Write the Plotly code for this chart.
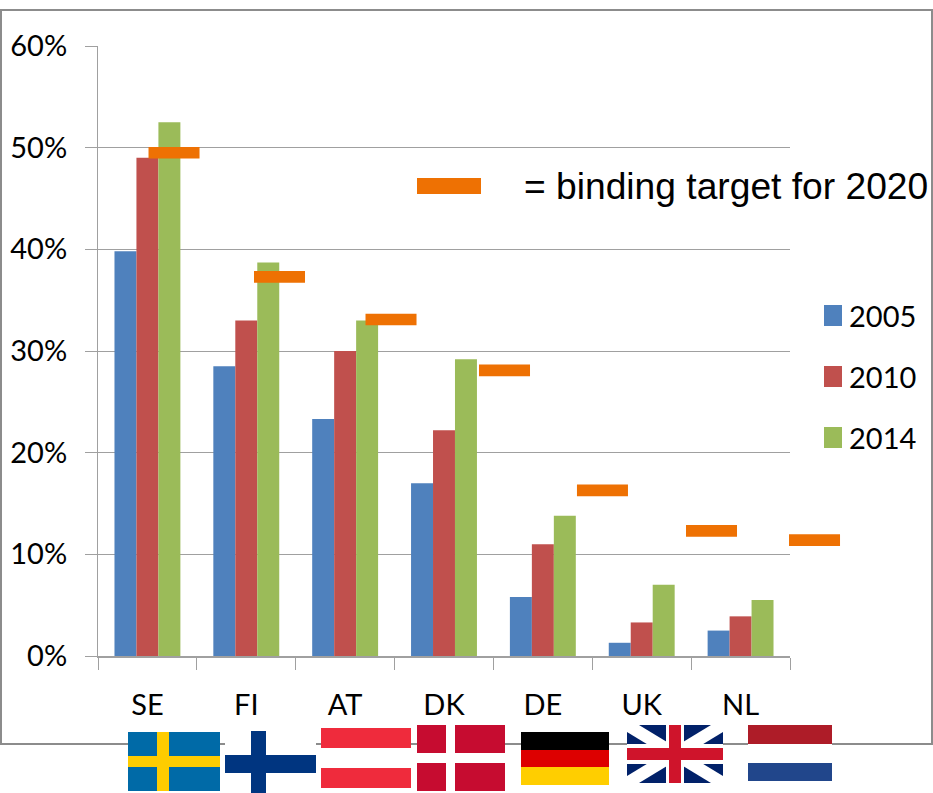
import plotly.graph_objects as go

countries = ["SE", "FI", "AT", "DK", "DE", "UK", "NL"]
years = ["2005", "2010", "2014"]
v2005 = [39.8, 28.5, 23.3, 17.0, 5.8, 1.3, 2.5]
v2010 = [49.0, 33.0, 30.0, 22.2, 11.0, 3.3, 3.9]
v2014 = [52.5, 38.7, 33.0, 29.2, 13.8, 7.0, 5.5]
target_pos = [0.269, 1.336, 2.464, 3.612, 4.603, 5.706, 6.748]
target_val = [49.5, 37.3, 33.1, 28.1, 16.3, 12.3, 11.4]
y_ticks = [0, 10, 20, 30, 40, 50, 60]
y_labels = ["0%", "10%", "20%", "30%", "40%", "50%", "60%"]
colors = ["#4F81BD", "#C0504D", "#9BBB59"]
ORANGE = "#EE7103"
FONT = "Lato"
TEXT_SIZE = 29

W, H = 933, 793
L, T, PW, PH = 98, 46, 835, 610   # whole plotting area
CHART_W = 692                     # part of it used by the category axis
CAT_W = CHART_W / len(countries)


def px(x):
    return (x - L) / PW


def py(y):
    return 1 - (y - T) / PH


fig = go.Figure()
for name, vals, col in zip(years, [v2005, v2010, v2014], colors):
    fig.add_bar(x=countries, y=vals, name=name, marker_color=col, marker_line_width=0)

thick = 1.15
fig.add_bar(
    x=target_pos, y=[thick] * len(target_val), base=[v - thick / 2 for v in target_val],
    width=0.516, xaxis="x2", yaxis="y2", marker_color=ORANGE, marker_line_width=0,
    showlegend=False, name="target",
)

shapes = []


def rect(x0, y0, x1, y1, fill):
    shapes.append(dict(type="rect", xref="paper", yref="paper", x0=px(x0), x1=px(x1),
                       y0=py(y0), y1=py(y1), fillcolor=fill, line_width=0, layer="above"))


def poly(points, fill):
    d = "M" + "L".join(f"{px(a):.5f},{py(b):.5f}" for a, b in points) + "Z"
    shapes.append(dict(type="path", xref="paper", yref="paper", path=d, fillcolor=fill,
                       line_width=0, layer="above"))


# outer frame of the slide picture
shapes.append(dict(type="rect", xref="paper", yref="paper", x0=px(1), x1=px(932), y0=py(744),
                   y1=py(10), line=dict(color="#8C8C8C", width=2), fillcolor="rgba(0,0,0,0)",
                   layer="below"))

# key for the target marker
rect(417, 178, 481, 194, ORANGE)

# legend
for i, (name, col) in enumerate(zip(years, colors)):
    yc = 316 + i * 61
    rect(824, yc - 11, 842, yc + 10, col)

# flags
# Sweden
rect(128, 732, 220, 791, "#006AA7")
rect(157, 732, 169, 791, "#FECC00")
rect(128, 756, 220, 767, "#FECC00")
# Finland
rect(225, 731, 316, 793, "#FFFFFF")
rect(251, 731, 266, 793, "#003580")
rect(225, 755, 316, 773, "#003580")
# Austria
rect(321, 728, 411, 788, "#FFFFFF")
rect(321, 728, 411, 748, "#EF2B3C")
rect(321, 768, 411, 788, "#EF2B3C")
# Denmark
rect(417, 725, 505, 791, "#C60C30")
rect(446, 725, 455, 791, "#FFFFFF")
rect(417, 753, 505, 763, "#FFFFFF")
# Germany
rect(521, 732, 609, 750, "#000000")
rect(521, 750, 609, 767, "#DD0000")
rect(521, 767, 609, 785, "#FFCE00")
# United Kingdom
rect(627, 725, 723, 783, "#012169")
poly([(627, 725), (639, 725), (723, 776), (723, 783), (711, 783), (627, 732)], "#FFFFFF")
poly([(723, 725), (711, 725), (627, 776), (627, 783), (639, 783), (723, 732)], "#FFFFFF")
rect(666, 725, 684, 783, "#FFFFFF")
rect(627, 744, 723, 764, "#FFFFFF")
rect(669, 725, 681, 783, "#CF142B")
rect(627, 748, 723, 760, "#CF142B")
# Netherlands
rect(748, 725, 832, 781, "#FFFFFF")
rect(748, 725, 832, 744, "#AE1C28")
rect(748, 763, 832, 781, "#21468B")

annotations = [dict(xref="paper", yref="paper", x=px(522), y=py(186), xanchor="left", yanchor="middle",
                    text="= binding target for 2020", showarrow=False,
                    font=dict(family="Liberation Sans", size=37.2, color="#000000"))]
for i, name in enumerate(years):
    annotations.append(dict(xref="paper", yref="paper", x=px(847), y=py(315 + i * 61), xanchor="left",
                            yanchor="middle", text=name, showarrow=False,
                            font=dict(family=FONT, size=TEXT_SIZE, color="#000000")))

fig.update_layout(
    width=W, height=H, autosize=False,
    margin=dict(l=L, r=W - L - PW, t=T, b=H - T - PH, pad=0),
    paper_bgcolor="white", plot_bgcolor="rgba(0,0,0,0)",
    barmode="group", bargap=1 / 3, bargroupgap=0,
    showlegend=False,
    shapes=shapes, annotations=annotations,
    font=dict(family=FONT, color="#000000"),
    xaxis=dict(type="category", categoryorder="array", categoryarray=countries,
               domain=[0, CHART_W / PW], anchor="y",
               tickson="boundaries", ticks="outside", ticklen=12, tickcolor="#A0A0A0", tickwidth=1,
               showline=True, linecolor="#A0A0A0", linewidth=2, showgrid=False,
               ticklabelstandoff=22, tickfont=dict(family=FONT, size=TEXT_SIZE, color="#000000")),
    xaxis2=dict(domain=[0, 1], range=[-0.5, -0.5 + PW / CAT_W], visible=False, anchor="y2"),
    yaxis=dict(range=[0, 60], tickmode="array", tickvals=y_ticks, ticktext=y_labels,
               ticks="outside", ticklen=12, tickcolor="#A0A0A0", tickwidth=1,
               showline=True, linecolor="#A0A0A0", linewidth=1,
               showgrid=True, gridcolor="#A0A0A0", gridwidth=1, zeroline=False,
               ticklabelstandoff=12, tickfont=dict(family=FONT, size=TEXT_SIZE, color="#000000")),
    yaxis2=dict(range=[0, 60], visible=False, anchor="x2", showgrid=False, zeroline=False),
)

fig.write_html(
    "out.html",
    config={"displayModeBar": False, "responsive": False},
    post_script=("document.documentElement.style.overflow='hidden';"
                 "document.body.style.margin='0';"
                 "var g=document.getElementById('{plot_id}');"
                 "g.style.position='absolute';g.style.left='0';g.style.top='0';g.style.margin='0';"),
)
